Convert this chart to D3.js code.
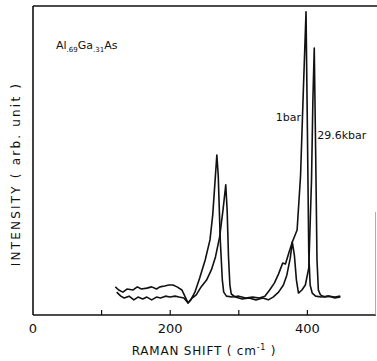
<!DOCTYPE html>
<html>
<head>
<meta charset="utf-8">
<script src="https://cdn.jsdelivr.net/npm/d3@7"></script>
<style>
  html, body { margin: 0; padding: 0; background: #fff; }
  svg { display: block; }
  text { font-family: 'DejaVu Sans', sans-serif; fill: #111; }
</style>
</head>
<body>
<svg id="chart" width="377" height="361"></svg>
<script>
// Raman shift (cm-1) / intensity (arb. unit)
const bar1 = [
  [120, 9.1], [125, 8.1], [131, 7.4], [137, 8.4], [146, 8.1], [152, 9.1], [158, 8.4],
  [166, 8.7], [173, 9.1], [180, 8.4], [185, 9.1], [192, 9.4], [198, 9.7], [204, 9.7],
  [210, 9.1], [217, 8.1], [222, 5.8], [226, 3.9], [230, 4.9], [236, 7.4], [243, 12.0],
  [251, 17.8], [258, 24.3], [262, 32.4], [265, 42.1], [268, 51.8], [270, 45.3],
  [273, 24.3], [276, 11.3], [278, 7.4], [282, 6.1], [290, 5.8], [300, 6.1], [310, 5.5],
  [320, 5.8], [330, 5.5], [338, 6.1], [345, 8.1], [352, 10.4], [358, 13.3], [364, 16.8],
  [368, 16.5], [372, 19.4], [378, 23.6], [385, 27.5], [390, 45.0], [394, 72.0],
  [398, 98.1], [400, 60.0], [402, 20.0], [404, 9.7], [407, 7.1], [412, 6.1], [420, 5.8],
  [430, 6.1], [440, 5.8], [448, 6.1]
]

const bar296 = [
  [122, 7.4], [128, 6.1], [133, 5.5], [140, 6.1], [147, 4.9], [153, 5.8], [160, 5.2],
  [166, 5.8], [173, 4.9], [180, 5.8], [186, 5.5], [193, 6.1], [200, 5.8], [207, 6.1],
  [213, 5.8], [220, 5.5], [226, 3.9], [232, 5.5], [238, 6.5], [245, 9.1], [253, 11.3],
  [260, 14.6], [266, 18.8], [272, 25.2], [277, 34.0], [281, 42.1], [283, 34.0],
  [285, 18.8], [287, 9.7], [289, 6.8], [295, 5.8], [305, 5.2], [315, 5.5], [325, 4.9],
  [335, 5.5], [343, 4.9], [350, 5.8], [358, 7.4], [365, 9.7], [370, 12.9], [375, 18.4],
  [378, 23.6], [381, 19.4], [384, 11.3], [387, 7.1], [392, 8.1], [397, 9.7], [402, 15.2],
  [406, 43.7], [408, 69.6], [410, 86.4], [412, 53.4], [414, 17.8], [416, 8.1],
  [419, 6.5], [425, 5.8], [432, 6.1], [440, 5.5], [448, 5.8]
]

const xTicks = [100, 200, 300, 400]
const xTickLabels = [0, 200, 400]

const svg = d3.select('#chart')

const x = d3.scaleLinear().domain([0, 500]).range([33, 376])
const y = d3.scaleLinear().domain([0, 100]).range([315, 6])

// frame: left, top, bottom, partial right edge
const frame = svg.append('g').attr('stroke', '#111').attr('fill', 'none')
frame.append('line').attr('x1', 33).attr('y1', 6).attr('x2', 33).attr('y2', 315).attr('stroke-width', 1.6)
frame.append('line').attr('x1', 33).attr('y1', 6).attr('x2', 377).attr('y2', 6).attr('stroke-width', 1.4)
frame.append('line').attr('x1', 33).attr('y1', 315).attr('x2', 376).attr('y2', 315).attr('stroke-width', 1.4)
frame.append('line').attr('x1', 375.5).attr('y1', 212).attr('x2', 375.5).attr('y2', 315)
  .attr('stroke', '#999').attr('stroke-width', 0.8)

// inward ticks
svg.append('g')
  .selectAll('line')
  .data(xTicks)
  .enter()
  .append('line')
  .attr('x1', d => x(d))
  .attr('x2', d => x(d))
  .attr('y1', 315)
  .attr('y2', 310)
  .attr('stroke', '#111')
  .attr('stroke-width', 1.2)

svg.append('g')
  .selectAll('text')
  .data(xTickLabels)
  .enter()
  .append('text')
  .attr('x', d => x(d))
  .attr('y', 333)
  .attr('text-anchor', 'middle')
  .attr('font-size', 13)
  .text(d => d)

// axis titles
const xt = svg.append('text')
  .attr('x', 204)
  .attr('y', 355)
  .attr('text-anchor', 'middle')
  .attr('font-size', 12)
  .attr('letter-spacing', 0.8)
xt.append('tspan').text('RAMAN SHIFT ( cm')
xt.append('tspan').attr('dy', -5).attr('font-size', 8).text('-1')
xt.append('tspan').attr('dy', 5).text(' )')

svg.append('text')
  .attr('transform', 'translate(20,174) rotate(-90)')
  .attr('text-anchor', 'middle')
  .attr('font-size', 12)
  .attr('letter-spacing', 2.2)
  .text('INTENSITY ( arb. unit )')

// spectra
const line = d3.line().x(d => x(d[0])).y(d => y(d[1])).curve(d3.curveLinear)

svg.append('path')
  .datum(bar1)
  .attr('d', line)
  .attr('fill', 'none')
  .attr('stroke', '#111')
  .attr('stroke-width', 1.6)
  .attr('stroke-linejoin', 'round')

svg.append('path')
  .datum(bar296)
  .attr('d', line)
  .attr('fill', 'none')
  .attr('stroke', '#111')
  .attr('stroke-width', 1.6)
  .attr('stroke-linejoin', 'round')

// annotations
const comp = svg.append('text').attr('x', 56).attr('y', 49).attr('font-size', 11)
comp.append('tspan').text('Al')
comp.append('tspan').attr('dy', 3).attr('font-size', 7).text('.69')
comp.append('tspan').attr('dy', -3).text('Ga')
comp.append('tspan').attr('dy', 3).attr('font-size', 7).text('.31')
comp.append('tspan').attr('dy', -3).text('As')

svg.append('text').attr('x', x(398) - 5).attr('y', 121)
  .attr('text-anchor', 'end').attr('font-size', 11).text('1bar')
svg.append('text').attr('x', x(410) + 3).attr('y', 139)
  .attr('font-size', 11).text('29.6kbar')
</script>
</body>
</html>
